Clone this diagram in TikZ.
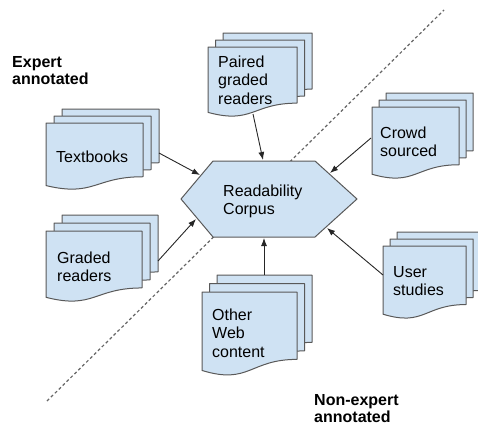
\documentclass[tikz,border=0pt]{standalone}
\usepackage{fontspec}
\setmainfont{Liberation Sans}
\usetikzlibrary{arrows.meta}
\definecolor{pagefill}{HTML}{CFE2F3}
\definecolor{pageline}{HTML}{595959}
\definecolor{arrowline}{HTML}{262626}
\definecolor{dashline}{HTML}{666666}
\tikzset{
  page/.style={fill=pagefill,draw=pageline,line width=1pt,line join=round},
  lbl/.style={anchor=base west,align=left,inner sep=0pt,font=\fontsize{16}{18.5}\selectfont},
  biglbl/.style={anchor=base west,align=left,inner sep=0pt,font=\fontsize{16}{17.5}\selectfont\bfseries},
  feed/.style={draw=arrowline,line width=0.9pt,-{Latex[length=8pt,width=6pt]}},
  divider/.style={draw=dashline,line width=1.2pt,dash pattern=on 3pt off 2.5pt}
}
\newcommand\dpage[4]{%
  \draw[page] (#1,#2) -- ({#1+#3},#2) -- ({#1+#3},{#2+0.802*#4})
    .. controls ({#1+0.5*#3},{#2+0.802*#4}) and ({#1+0.5*#3},{#2+1.107*#4}) ..
    (#1,{#2+0.934*#4}) -- cycle;}
\newcommand\dstack[6]{%
  \dpage{#1+2*#5}{#2-2*#6}{#3}{#4}%
  \dpage{#1+#5}{#2-#6}{#3}{#4}%
  \dpage{#1}{#2}{#3}{#4}}
\begin{document}
\begin{tikzpicture}[x=1pt,y=-1pt]
\useasboundingbox (0,0) rectangle (478,429);
% divider
\coordinate (d1) at (47,401);
\coordinate (d2) at (444,10);
\draw[divider] (d1) -- (d2);
% stacks
\dstack{46}{123}{97}{67}{8}{7}
\dstack{46}{231}{96}{71}{8}{8}
\dstack{208}{47}{89}{70}{7.5}{7}
\dstack{372}{107}{87}{72}{7}{7}
\dstack{383}{246}{83}{73}{7}{7}
\dstack{202}{292}{95}{84}{7.5}{8.5}
% hexagon
\draw[page] (181,199) -- (213,161) -- (315,161) -- (357,199) -- (315,237) -- (213,237) -- cycle;
% labels (anchored at the baseline of the last line)
\node[lbl] (corpus) at (223,214.5) {Readability\\Corpus};
\node[lbl] (tb) at (56,162) {Textbooks};
\node[lbl] (gr) at (57,281.5) {Graded\\readers};
\node[lbl] (pgr) at (218,104) {Paired\\graded\\readers};
\node[lbl] (cs) at (380,156.5) {Crowd\\sourced};
\node[lbl] (us) at (393,295.5) {User\\studies};
\node[lbl] (ow) at (212,357) {Other\\Web\\content};
\node[biglbl] (ex) at (12,84.5) {Expert\\annotated};
\node[biglbl] (nx) at (314,422.5) {Non-expert\\annotated};
% connector ends
\coordinate (tbs) at (159,153);  \coordinate (tbe) at (200,175);
\coordinate (grs) at (158,261);  \coordinate (gre) at (196,219);
\coordinate (pgs) at (253,114);  \coordinate (pge) at (263,160);
\coordinate (css) at (371,138);  \coordinate (cse) at (330,173);
\coordinate (uss) at (383,275);  \coordinate (use) at (327,228);
\coordinate (ows) at (264,275);  \coordinate (owe) at (264,238);
\draw[feed] (tbs) -- (tbe);
\draw[feed] (grs) -- (gre);
\draw[feed] (pgs) -- (pge);
\draw[feed] (css) -- (cse);
\draw[feed] (uss) -- (use);
\draw[feed] (ows) -- (owe);
\end{tikzpicture}
\end{document}
